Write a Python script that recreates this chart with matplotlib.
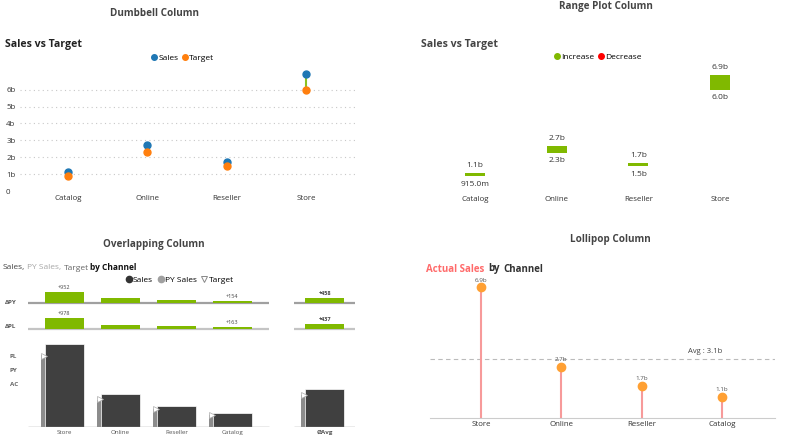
import matplotlib
matplotlib.use("Agg")
import matplotlib.pyplot as plt
from matplotlib.lines import Line2D
import numpy as np

plt.rcParams["font.family"] = ["Open Sans", "DejaVu Sans"]

# === DATA ===
channels = ["Catalog", "Online", "Reseller", "Store"]
sales_b = [1.1, 2.7, 1.7, 6.9]
target_b = [0.915, 2.3, 1.5, 6.0]

# overlapping column, values in millions
ov_channels = ["Store", "Online", "Reseller", "Catalog"]
ov_sales = [6900, 2700, 1700, 1100]
ov_py = [5948, 2230, 1444, 946]
ov_plan = [5922, 2315, 1478, 937]

# lollipop, sorted by sales
lp_channels = ["Store", "Online", "Reseller", "Catalog"]
lp_sales = [6.9, 2.7, 1.7, 1.1]

# === STYLE ===
W, H = 800, 442
BLUE = "#1F77B4"
ORANGE = "#FF7F0E"
GREEN = "#80B900"
RED = "#FF0000"
DARK = "#333333"
TITLE = "#444444"
CAT_SIZE = 5.7

fig = plt.figure(figsize=(W / 100, H / 100), dpi=100)
renderer = fig.canvas.get_renderer()


def add_ax(left, top, right, bottom):
    # axes from pixel box of the 800x442 canvas
    return fig.add_axes([left / W, 1 - bottom / H, (right - left) / W, (bottom - top) / H])


def ftext(x, y, s, **kw):
    kw.setdefault("va", "center")
    return fig.text(x / W, 1 - y / H, s, **kw)


def rainbow(x, y, parts, size, gap=3):
    for txt, color, weight in parts:
        t = ftext(x, y, txt, color=color, fontsize=size, fontweight=weight, ha="left")
        x = t.get_window_extent(renderer).x1 + gap


def fmt_b(v):
    return f"{v:.1f}b" if v >= 1 else f"{v * 1000:.1f}m"


def clean(ax, keep_bottom=False):
    for name, sp in ax.spines.items():
        if not (keep_bottom and name == "bottom"):
            sp.set_visible(False)


# ---------- Dumbbell Column ----------
ftext(154, 13, "Dumbbell Column", ha="center", fontsize=7.1, fontweight="bold", color=TITLE)
ftext(5, 45, "Sales vs Target", ha="left", fontsize=7.6, fontweight="bold", color="#222")

ax1 = add_ax(20, 65, 355, 191)
x = np.arange(len(channels))
ax1.vlines(x, target_b, sales_b, color="#8DC21F", lw=1.5, zorder=2)
ax1.plot(x, sales_b, "o", color=BLUE, ms=5, zorder=3)
ax1.plot(x, target_b, "o", color=ORANGE, ms=5, zorder=3)
ax1.set_xlim(-0.605, 3.62)
ax1.set_ylim(0, 7.46)
ax1.set_yticks(range(7), ["0"] + [f"{i}b" for i in range(1, 7)])
ax1.tick_params(axis="y", length=0, pad=10, labelsize=CAT_SIZE, labelcolor=DARK)
for lab in ax1.get_yticklabels():
    lab.set_ha("left")
ax1.set_xticks(x, channels)
ax1.tick_params(axis="x", length=0, pad=3, labelsize=CAT_SIZE, labelcolor=DARK)
ax1.grid(axis="y", ls=(0, (1, 3)), color="#C8C8C8", lw=0.8)
ax1.set_axisbelow(True)
ax1.get_ygridlines()[0].set_visible(False)
clean(ax1)

h1 = [Line2D([], [], marker="o", ls="", color=BLUE, ms=4),
      Line2D([], [], marker="o", ls="", color=ORANGE, ms=4)]
fig.legend(h1, ["Sales", "Target"], loc="center", bbox_to_anchor=(183 / W, 1 - 58 / H),
           ncol=2, frameon=False, fontsize=6, handlelength=0.6, handletextpad=0.2,
           columnspacing=0.5, borderpad=0)

# ---------- Range Plot Column ----------
ftext(606, 7, "Range Plot Column", ha="center", fontsize=7.1, fontweight="bold", color=TITLE)
ftext(421, 44, "Sales vs Target", ha="left", fontsize=7.6, fontweight="bold", color="#444")

ax2 = add_ax(435, 65, 760, 192)
diff = np.subtract(sales_b, target_b)
cols = [GREEN if d >= 0 else RED for d in diff]
ax2.bar(x, diff, bottom=target_b, width=0.245, color=cols)
for xi, s, t in zip(x, sales_b, target_b):
    ax2.annotate(fmt_b(s), (xi, max(s, t)), xytext=(0, 3), textcoords="offset points",
                 ha="center", va="bottom", fontsize=6, color=DARK)
    ax2.annotate(fmt_b(t), (xi, min(s, t)), xytext=(0, -3), textcoords="offset points",
                 ha="center", va="top", fontsize=6, color=DARK)
ax2.set_xlim(-0.49, 3.49)
ax2.set_ylim(0, 7.47)
ax2.set_yticks([])
ax2.set_xticks(x, channels)
ax2.tick_params(axis="x", length=0, pad=3, labelsize=CAT_SIZE, labelcolor=DARK)
clean(ax2)

h2 = [Line2D([], [], marker="o", ls="", color=GREEN, ms=4),
      Line2D([], [], marker="o", ls="", color=RED, ms=4)]
fig.legend(h2, ["Increase", "Decrease"], loc="center", bbox_to_anchor=(598 / W, 1 - 57 / H),
           ncol=2, frameon=False, fontsize=6, handlelength=0.6, handletextpad=0.2,
           columnspacing=0.5, borderpad=0)

# ---------- Overlapping Column ----------
ftext(154, 244, "Overlapping Column", ha="center", fontsize=7.1, fontweight="bold", color=TITLE)
rainbow(3, 268, [("Sales,", "#444", "normal"), ("PY Sales,", "#A6A6A6", "normal"),
                 ("Target", "#666", "normal"), ("by Channel", "#111", "bold")], 6, gap=2)

h3 = [Line2D([], [], marker="o", ls="", color="#333", ms=4.5),
      Line2D([], [], marker="o", ls="", color="#A0A0A0", ms=4.5),
      Line2D([], [], marker="v", ls="", mfc="white", mec="#888", mew=0.7, ms=4.5)]
fig.legend(h3, ["Sales", "PY Sales", "Target"], loc="center", bbox_to_anchor=(180 / W, 1 - 280 / H),
           ncol=3, frameon=False, fontsize=6, handlelength=0.6, handletextpad=0.2,
           columnspacing=0.6, borderpad=0)

n = len(ov_channels)
xo = np.arange(n)
x_avg = n + 0.65
xs = np.append(xo, x_avg)
sales_all = np.append(ov_sales, np.mean(ov_sales))
py_all = np.append(ov_py, np.mean(ov_py))
plan_all = np.append(ov_plan, np.mean(ov_plan))
bw = 0.70
k_delta = 0.0113  # px per million in the delta rows


def delta_row(top, base, values, line_color):
    ax = add_ax(28, top, 355, base + 2)
    ax.set_xlim(-0.65, 5.19)
    ax.set_ylim(-2 / k_delta, (base - top) / k_delta)
    ax.hlines(0, -0.65, n - 0.35, color=line_color, lw=1.6, zorder=1)
    ax.hlines(0, x_avg - 0.55, x_avg + 0.54, color=line_color, lw=1.6, zorder=1)
    ax.bar(xs, values, width=bw, color=GREEN, zorder=2)
    for i, (xi, v) in enumerate(zip(xs, values)):
        if i in (0, n - 1, n):
            ax.annotate(f"+{v:.0f}", (xi, v), xytext=(0, 1.5), textcoords="offset points",
                        ha="center", va="bottom", fontsize=4,
                        fontweight="bold" if i == n else "normal", color="#444")
    ax.axis("off")
    return ax


delta_row(283, 303, sales_all - py_all, "#A0A0A0")
delta_row(309, 329, sales_all - plan_all, "#C4C4C4")
ftext(5, 302, "ΔPY", ha="left", fontsize=4.5, fontweight="bold", color="#555")
ftext(5, 327, "ΔPL", ha="left", fontsize=4.5, fontweight="bold", color="#555")

k_main = 0.01194
ax3 = add_ax(28, 335, 355, 427)
ax3.set_xlim(-0.65, 5.19)
ax3.set_ylim(-0.5 / k_main, 91.5 / k_main)
shift = 0.071
ax3.bar(xs - shift, py_all, width=bw, color="#8C8C8C", zorder=1)
ax3.bar(xs, sales_all, width=bw, color="#404040", edgecolor="white", lw=0.5, zorder=2)
ax3.plot(xs - bw / 2 - shift + 0.05, plan_all, ">", ms=4, mfc="white", mec="#AAAAAA",
         mew=0.5, ls="", zorder=3)
ax3.hlines(0, -0.65, n - 0.35, color="#999", lw=1, zorder=3)
ax3.hlines(0, x_avg - 0.55, x_avg + 0.54, color="#999", lw=1, zorder=3)
ax3.set_yticks([])
ax3.set_xticks(xs, ov_channels + ["ØAvg"])
ax3.tick_params(axis="x", length=0, pad=2, labelsize=4.5, labelcolor="#555")
ax3.get_xticklabels()[-1].set_fontweight("bold")
clean(ax3)
for lab, yy in zip(["PL", "PY", "AC"], [356, 370, 385]):
    ftext(10, yy, lab, ha="left", fontsize=4.5, fontweight="bold", color="#666")

# ---------- Lollipop Column ----------
ftext(610, 240, "Lollipop Column", ha="center", fontsize=7.1, fontweight="bold", color=TITLE)
rainbow(426, 269, [("Actual Sales", "#FF6B6B", "bold"), ("by", "#333", "bold"),
                   ("Channel", "#333", "bold")], 7, gap=4)

ax4 = add_ax(430, 280, 775, 418)
xl = np.arange(len(lp_channels))
ax4.vlines(xl, 0, lp_sales, color="#F79A9A", lw=1.5, zorder=2)
ax4.plot(xl, lp_sales, "o", color="#FFA033", ms=6, zorder=3)
for xi, v in zip(xl, lp_sales):
    ax4.annotate(fmt_b(v), (xi, v), xytext=(0, 3.5), textcoords="offset points",
                 ha="center", va="bottom", fontsize=4.5, color="#555")
avg = np.mean(lp_sales)
ax4.axhline(avg, ls=(0, (4, 3)), color="#BBBBBB", lw=0.8, zorder=1)
ax4.annotate(f"Avg : {avg:.1f}b", (2.79, avg), xytext=(0, 3), textcoords="offset points",
             ha="center", va="bottom", fontsize=5.5, color="#444")
ax4.set_xlim(-0.635, 3.66)
ax4.set_ylim(0, 7.29)
ax4.set_yticks([])
ax4.set_xticks(xl, lp_channels)
ax4.tick_params(axis="x", length=0, pad=2, labelsize=CAT_SIZE, labelcolor=DARK)
clean(ax4, keep_bottom=True)
ax4.spines["bottom"].set_color("#CCCCCC")

fig.savefig("out.png", dpi=100)
